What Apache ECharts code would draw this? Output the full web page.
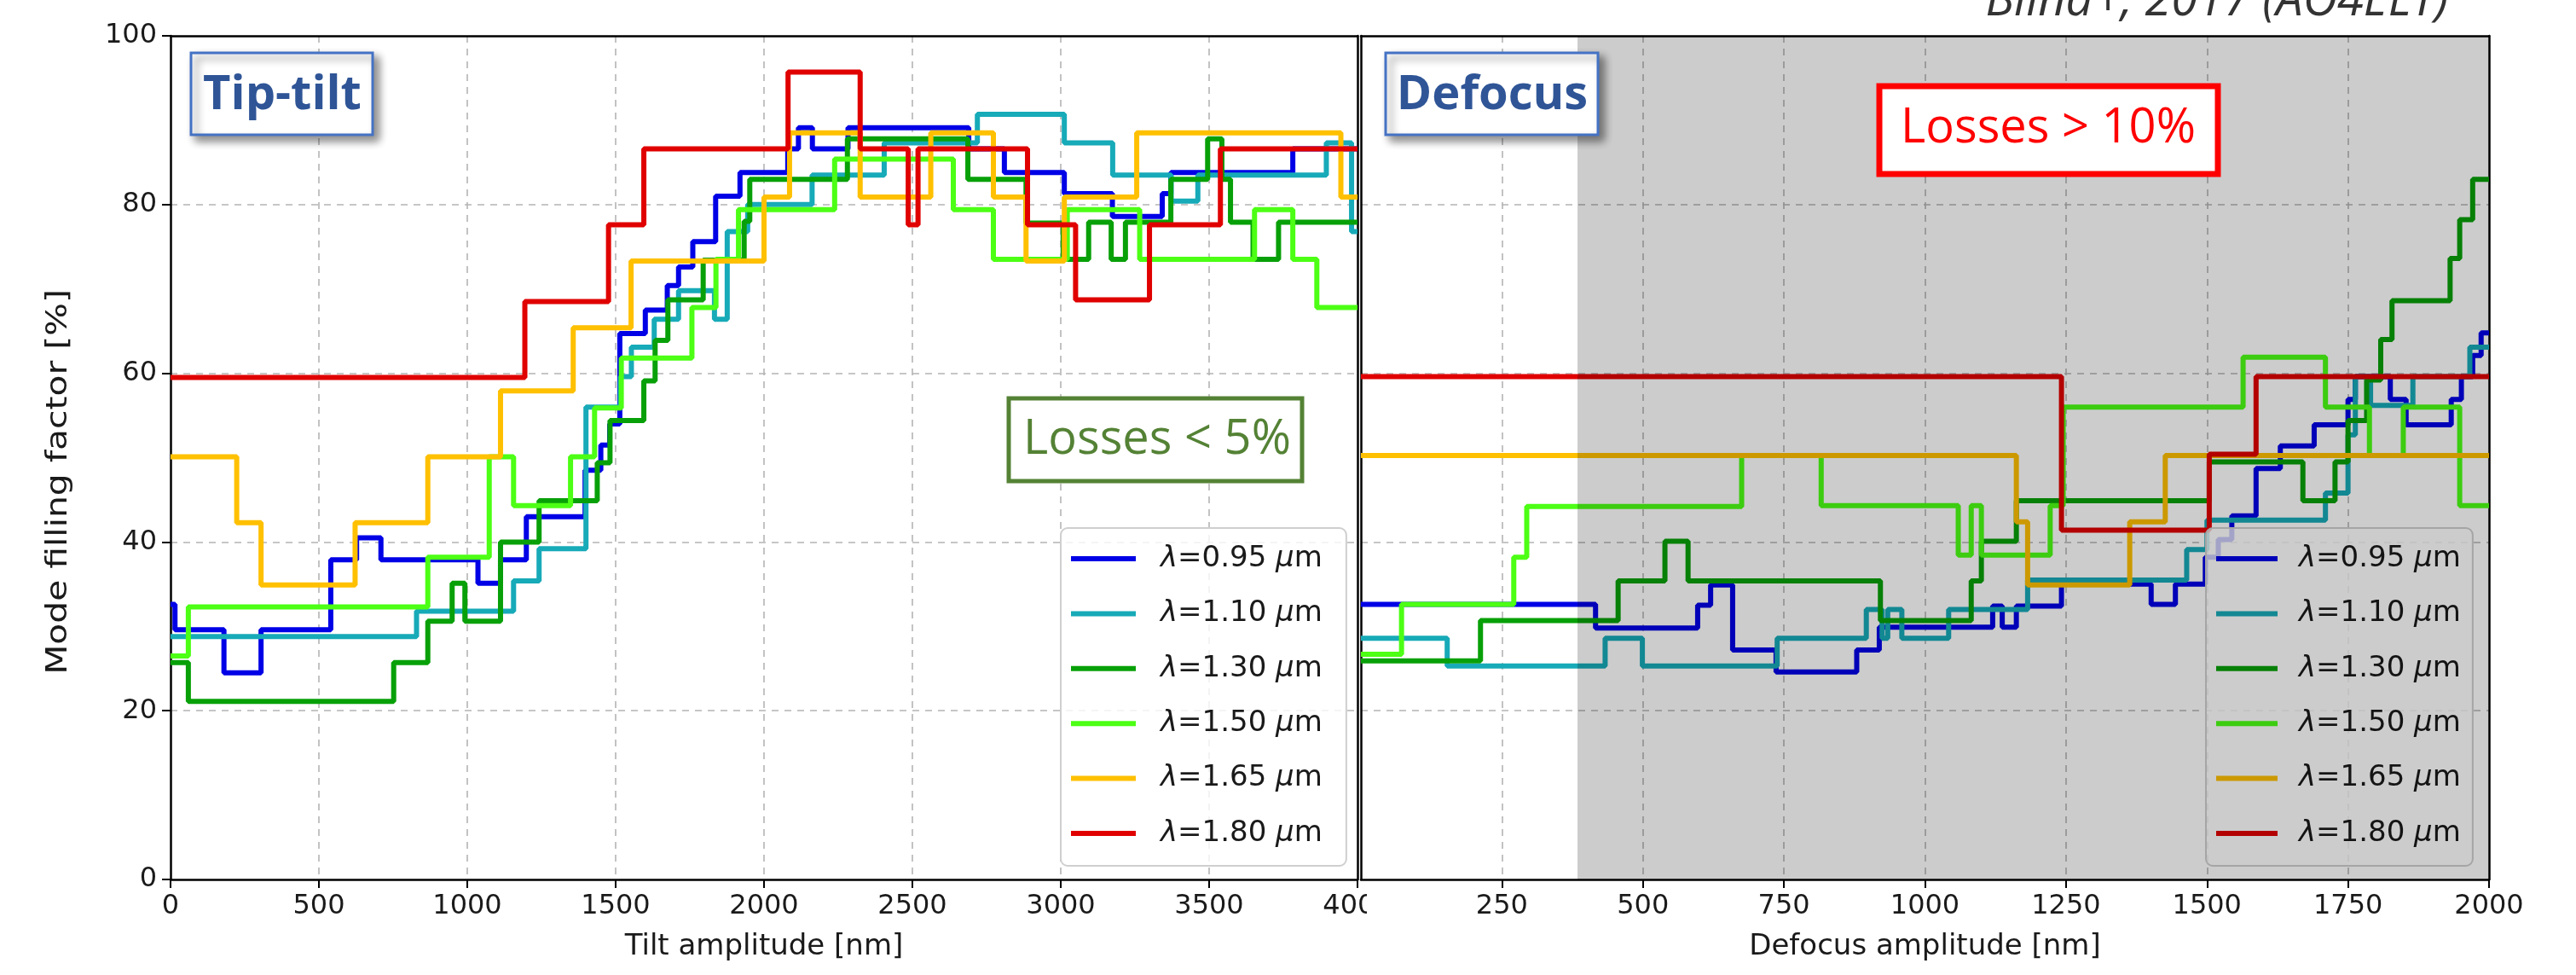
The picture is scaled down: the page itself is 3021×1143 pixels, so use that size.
<!DOCTYPE html>
<html><head><meta charset="utf-8">
<script src="https://cdn.jsdelivr.net/npm/echarts@6/dist/echarts.min.js"></script>
<style>html,body{margin:0;padding:0;background:#fff}#c{width:3021px;height:1143px}</style>
</head><body><div id="c"></div>
<script>
// ---------- data ----------
const seriesNames = ['λ=0.95 μm','λ=1.10 μm','λ=1.30 μm','λ=1.50 μm','λ=1.65 μm','λ=1.80 μm'];
const seriesColors = ['#0000e6','#17aab8','#08a008','#4cff14','#ffc000','#e00000'];

const tiltTicks = [0,500,1000,1500,2000,2500,3000,3500,4000];
const defocusTicks = [0,250,500,750,1000,1250,1500,1750,2000];
const yTicks = [0,20,40,60,80,100];
const shadeRange = [384, 2000];

// Tip-tilt panel (x: tilt amplitude nm, y: mode filling factor %)
const tilt095 = [[0,32.6],[15,29.6],[180,24.5],[305,29.6],[540,37.9],[627,40.5],[709,37.9],[1036,35.1],[1112,37.9],[1199,43.0],[1397,48.5],[1450,51.5],[1480,54.0],[1514,64.7],[1600,67.5],[1674,70.4],[1712,72.6],[1760,75.6],[1837,81.0],[1919,83.8],[2080,86.6],[2116,89.1],[2163,86.6],[2283,89.1],[2690,86.6],[2810,83.8],[3012,81.3],[3174,78.6],[3342,81.3],[3371,83.8],[3782,86.6],[4000,86.6]];
const tilt110 = [[0,28.8],[829,31.8],[1156,35.4],[1242,39.2],[1400,56.0],[1516,59.6],[1553,63.1],[1630,66.4],[1712,69.8],[1833,66.4],[1876,76.8],[1945,80.0],[2162,83.5],[2405,87.3],[2719,90.7],[3012,87.3],[3175,83.5],[3372,80.4],[3462,83.5],[3895,87.3],[3980,76.8],[4000,76.8]];
const tilt130 = [[0,25.7],[60,21.1],[752,25.7],[867,30.6],[949,35.1],[992,30.6],[1112,40.0],[1242,44.9],[1438,49.4],[1481,54.4],[1595,59.1],[1633,63.9],[1676,68.7],[1795,73.4],[1933,78.0],[1952,83.0],[2281,87.8],[2687,83.0],[2883,77.8],[3008,73.5],[3094,77.9],[3170,73.5],[3218,77.9],[3371,83.0],[3495,87.8],[3543,83.0],[3572,77.9],[3648,73.5],[3734,77.9],[4000,77.9]];
const tilt150 = [[0,26.5],[60,32.3],[867,38.2],[1074,50.1],[1156,44.3],[1348,50.1],[1429,55.9],[1519,61.8],[1757,67.8],[1838,73.5],[1914,79.4],[2238,85.4],[2638,79.4],[2773,73.5],[3022,79.4],[3266,73.5],[3653,79.4],[3782,73.5],[3863,67.8],[4000,67.8]];
const tilt165 = [[0,50.1],[223,42.3],[305,34.9],[622,42.3],[867,50.1],[1112,57.9],[1357,65.4],[1552,73.3],[2000,80.9],[2086,88.5],[2324,80.9],[2562,88.5],[2773,80.9],[2883,73.3],[3012,80.9],[3256,88.5],[3944,80.9],[4000,80.9]];
const tilt180 = [[0,59.5],[1194,68.5],[1476,77.6],[1595,86.6],[2081,95.7],[2324,86.6],[2486,77.6],[2519,86.6],[2888,77.6],[3050,68.7],[3299,77.6],[3538,86.6],[4000,86.6]];

// Defocus panel (x: defocus amplitude nm)
const focus095 = [[0,32.6],[416,29.8],[597,32.5],[620,34.9],[659,27.2],[736,24.6],[879,27.2],[919,29.9],[1120,32.4],[1137,29.9],[1162,32.4],[1242,35.0],[1401,32.6],[1444,35.0],[1497,38.2],[1520,40.3],[1544,43.1],[1587,48.7],[1630,51.4],[1690,53.9],[1750,56.9],[1763,59.6],[1825,56.9],[1853,53.9],[1933,56.9],[1951,59.6],[1971,62.1],[1986,64.8],[2000,64.8]];
const focus110 = [[0,28.6],[153,25.3],[433,28.6],[499,25.3],[738,28.6],[896,32.0],[924,28.6],[934,32.0],[959,28.6],[1042,32.0],[1182,35.5],[1464,39.1],[1500,42.6],[1710,45.8],[1750,52.7],[1763,59.6],[1790,56.2],[1865,59.6],[1966,63.1],[2000,63.1]];
const focus130 = [[0,25.9],[212,30.7],[456,35.4],[539,40.1],[580,35.4],[921,30.7],[1082,35.4],[1100,40.1],[1162,44.9],[1504,49.5],[1670,44.9],[1727,49.5],[1750,54.4],[1783,59.2],[1808,64.0],[1828,68.6],[1931,73.6],[1948,78.2],[1971,83.0],[2000,83.0]];
const focus150 = [[0,26.7],[72,32.6],[271,38.2],[294,44.2],[675,50.25],[816,44.3],[1059,38.45],[1082,44.3],[1100,38.45],[1222,44.3],[1245,56.0],[1564,61.9],[1710,56.0],[1788,50.25],[1848,56.0],[1948,44.3],[2000,44.3]];
const focus165 = [[0,50.25],[1162,42.4],[1182,34.9],[1363,42.4],[1426,50.25],[2000,50.25]];
const focus180 = [[0,59.6],[1242,41.4],[1504,50.4],[1587,59.6],[2000,59.6]];

const tiltData = [tilt095, tilt110, tilt130, tilt150, tilt165, tilt180];
const focusData = [focus095, focus110, focus130, focus150, focus165, focus180];

// ---------- chart ----------
const FF = 'DejaVu Sans';
const TXT = '#1a1a1a';
const GRIDLINE = {show: true, showMinLine: false, showMaxLine: false, lineStyle: {color: '#b4b4b4', width: 1.6, type: [8, 7]}};
const chart = echarts.init(document.getElementById('c'), null, {renderer:'canvas'});

function xAxisOpt(grid, max, ticks, name) {
  return {
    gridIndex: grid, type: 'value', min: 0, max: max, interval: ticks[1]-ticks[0],
    name: name, nameLocation: 'middle', nameGap: 62,
    nameTextStyle: {fontFamily: FF, fontSize: 34, color: TXT},
    axisLine: {show: true, onZero: false, lineStyle: {color: '#000', width: 2.5}},
    axisTick: {show: true, inside: false, length: 10, lineStyle: {color: '#000', width: 2}},
    axisLabel: {fontFamily: FF, fontSize: 32, color: TXT, margin: 16, showMinLabel: grid === 0, hideOverlap: false,
      formatter: v => String(v)},
    splitLine: GRIDLINE
  };
}
function yAxisOpt(grid) {
  return {
    gridIndex: grid, type: 'value', min: 0, max: 100, interval: yTicks[1]-yTicks[0],
    axisLine: {show: true, onZero: false, lineStyle: {color: '#000', width: 2.5}},
    axisTick: {show: grid === 0, inside: false, length: 10, lineStyle: {color: '#000', width: 2}},
    axisLabel: {show: grid === 0, fontFamily: FF, fontSize: 32, color: TXT, margin: 16, formatter: v => String(v)},
    splitLine: GRIDLINE
  };
}
// frame-only axes (top / right spines)
function spineX(grid, max) {
  return {gridIndex: grid, type: 'value', position: 'top', min: 0, max: max,
    axisLine: {show: true, onZero: false, lineStyle: {color: '#000', width: 2.5}},
    axisTick: {show: false}, axisLabel: {show: false}, splitLine: {show: false}};
}
function spineY(grid) {
  return {gridIndex: grid, type: 'value', position: 'right', min: 0, max: 100,
    axisLine: {show: true, onZero: false, lineStyle: {color: '#000', width: 2.5}},
    axisTick: {show: false}, axisLabel: {show: false}, splitLine: {show: false}};
}

const series = [];
seriesNames.forEach((nm, i) => {
  series.push({name: nm, type: 'line', step: 'end', xAxisIndex: 0, yAxisIndex: 0,
    data: tiltData[i], showSymbol: false, symbol: 'none', z: 2,
    itemStyle: {color: seriesColors[i]}, lineStyle: {color: seriesColors[i], width: 6}, animation: false});
});
seriesNames.forEach((nm, i) => {
  series.push({name: nm, type: 'line', step: 'end', xAxisIndex: 1, yAxisIndex: 1,
    data: focusData[i], showSymbol: false, symbol: 'none', z: 2,
    itemStyle: {color: seriesColors[i]}, lineStyle: {color: seriesColors[i], width: 6}, animation: false});
});
// grey "losses > 10%" shading, drawn over lines and legend
series.push({type: 'custom', xAxisIndex: 1, yAxisIndex: 1, z: 10, silent: true, animation: false,
  data: [[shadeRange[0], shadeRange[1]]], encode: {x: [0, 1]},
  renderItem: function (params, api) {
    const p0 = api.coord([api.value(0), 100]);
    const p1 = api.coord([api.value(1), 0]);
    return {type: 'rect', shape: {x: p0[0], y: p0[1], width: p1[0]-p0[0], height: p1[1]-p0[1]},
      style: {fill: 'rgba(0,0,0,0.2)'}};
  }});

const legendFmt = n => n.replace('λ', '{i|λ}').replace('μ', '{i|μ}');
function legendOpt(left, itemW, padL, padR) {
  return {
    data: seriesNames, left: left, top: 619, orient: 'vertical', icon: 'rect',
    itemWidth: itemW, itemHeight: 6, itemGap: 24.4, selectedMode: false,
    padding: [16, padR, 18, 12], backgroundColor: 'rgba(255,255,255,0.8)',
    borderColor: '#cfcfcf', borderWidth: 2, borderRadius: 8,
    formatter: legendFmt,
    textStyle: {fontFamily: FF, fontSize: 34, color: TXT, lineHeight: 40, padding: [0, 0, 0, padL],
      rich: {i: {fontFamily: FF, fontSize: 34, fontStyle: 'italic', color: TXT, lineHeight: 40}}}
  };
}

function box(x, y, w, h, stroke, lw, shadow) {
  const st = {fill: '#fff', stroke: stroke, lineWidth: lw};
  if (shadow) { st.shadowBlur = 10; st.shadowOffsetX = 6; st.shadowOffsetY = 6; st.shadowColor = 'rgba(0,0,0,0.45)'; }
  return {type: 'rect', z: 100, shape: {x: x, y: y, width: w, height: h}, style: st};
}
function label(x, y, text, font, fill, extra) {
  return Object.assign({type: 'text', z: 101, x: x, y: y,
    style: {text: text, font: font, fill: fill, align: 'center', verticalAlign: 'middle',
      textAlign: 'center', textVerticalAlign: 'middle'}}, extra || {});
}

const option = {
  backgroundColor: '#fff',
  animation: false,
  grid: [
    {left: 200, top: 42, width: 1392, height: 989, show: false, outerBoundsMode: 'none'},
    {left: 1596, top: 42, width: 1323, height: 989, show: false, outerBoundsMode: 'none'}
  ],
  xAxis: [xAxisOpt(0, 4000, tiltTicks, 'Tilt amplitude [nm]'), xAxisOpt(1, 2000, defocusTicks, 'Defocus amplitude [nm]'),
          spineX(0, 4000), spineX(1, 2000)],
  yAxis: [yAxisOpt(0), yAxisOpt(1), spineY(0), spineY(1)],
  legend: [legendOpt(1244, 76, 24, 28), legendOpt(2587, 72, 20, 14)],
  series: series,
  graphic: {elements: [
    label(69, 565, 'Mode filling factor [%]', '34px "DejaVu Sans"', TXT, {rotation: Math.PI/2, scaleX: 1.2}),
    box(224, 62, 213, 96, '#4472c4', 3, true),
    label(331, 112, 'Tip-tilt', 'bold 56px "Open Sans"', '#2f5597'),
    box(1625, 62, 249, 96, '#4472c4', 3, true),
    label(1750, 112, 'Defocus', 'bold 56px "Open Sans"', '#2f5597'),
    box(1183, 467, 344, 97, '#548235', 5, false),
    label(1357, 516, 'Losses < 5%', '56px "Open Sans"', '#548235'),
    box(2204, 101, 397, 103, '#ff0000', 7, false),
    label(2402, 151, 'Losses > 10%', '56px "Open Sans"', '#ff0000'),
    label(2600, 2, 'Blind+, 2017 (AO4ELT)', 'italic 56px "Open Sans"', '#333333'),
    {type: 'rect', z: 100, shape: {x: 1603, y: 1043, width: 36, height: 52}, style: {fill: '#fff'}}
  ]}
};
chart.setOption(option);
</script></body></html>
